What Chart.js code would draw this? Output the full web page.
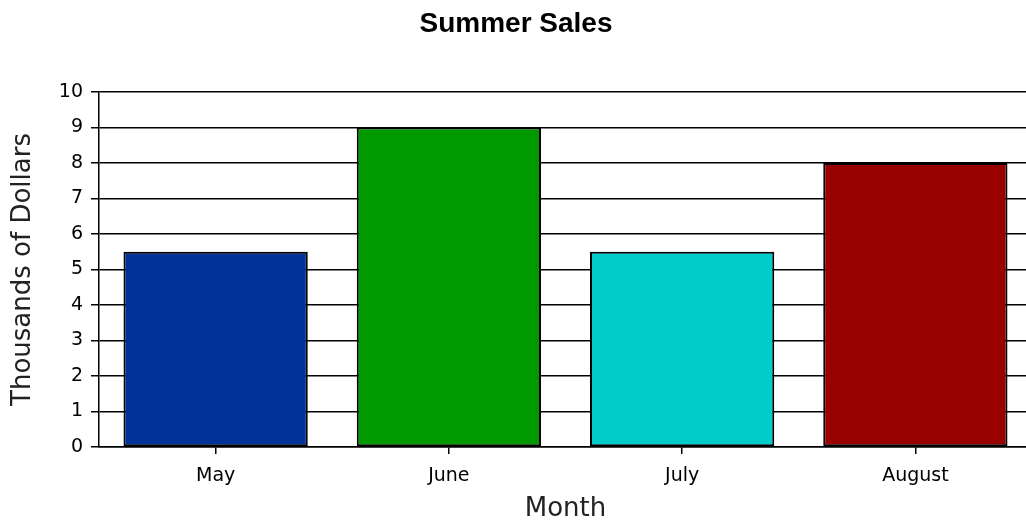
<!DOCTYPE html>
<html>
<head>
<meta charset="utf-8">
<style>
  html, body { margin: 0; padding: 0; background: #fff; overflow: hidden; }
  #wrap { width: 1032px; height: 522px; }
</style>
<script src="https://cdn.jsdelivr.net/npm/chart.js@4/dist/chart.umd.min.js"></script>
</head>
<body>
<div id="wrap"><canvas id="c" width="1032" height="522"></canvas></div>
<script>
// Monthly summer sales, in thousands of dollars
const months = ['May', 'June', 'July', 'August'];
const sales = [5.5, 9, 5.5, 8];
const barColors = ['#003399', '#009900', '#00CCCC', '#990000'];
const yTicks = [0, 1, 2, 3, 4, 5, 6, 7, 8, 9, 10];

new Chart(document.getElementById('c'), {
  type: 'bar',
  data: {
    labels: months,
    datasets: [{
      data: sales,
      backgroundColor: barColors,
      borderColor: '#000',
      borderWidth: 2,
      borderSkipped: false,
      categoryPercentage: 1,
      barPercentage: 0.79
    }]
  },
  options: {
    responsive: false,
    animation: false,
    events: [],
    layout: { padding: 0 },
    plugins: {
      legend: { display: false },
      tooltip: { enabled: false },
      title: {
        display: true,
        text: 'Summer Sales',
        color: '#000',
        font: { family: 'Liberation Sans', size: 28, weight: 'bold' },
        padding: { top: 7, bottom: 51.4 }
      }
    },
    scales: {
      x: {
        offset: true,
        afterFit: s => { s.height = 75; },
        grid: {
          offset: false,
          drawOnChartArea: false,
          drawTicks: true,
          tickLength: 7,
          color: '#000',
          lineWidth: 1.5
        },
        border: { display: true, color: '#000', width: 1.5 },
        ticks: {
          color: '#000',
          padding: 11,
          font: { family: 'DejaVu Sans', size: 19 }
        },
        title: {
          display: true,
          text: 'Month',
          color: '#222',
          font: { family: 'DejaVu Sans', size: 26, lineHeight: 0.97 },
          padding: { top: 0, bottom: 0 }
        }
      },
      y: {
        min: 0,
        max: 10,
        afterFit: s => { s.width = 99; },
        afterBuildTicks: s => { s.ticks = yTicks.map(v => ({ value: v })); },
        grid: {
          drawTicks: true,
          tickLength: 8,
          color: '#000',
          lineWidth: 1.5
        },
        border: { display: true, color: '#000', width: 1.5 },
        ticks: {
          color: '#000',
          padding: 8,
          font: { family: 'DejaVu Sans', size: 19 }
        },
        title: {
          display: true,
          text: 'Thousands of Dollars',
          color: '#222',
          font: { family: 'DejaVu Sans', size: 26 },
          padding: { top: 8, bottom: 0 }
        }
      }
    }
  }
});
</script>
</body>
</html>
